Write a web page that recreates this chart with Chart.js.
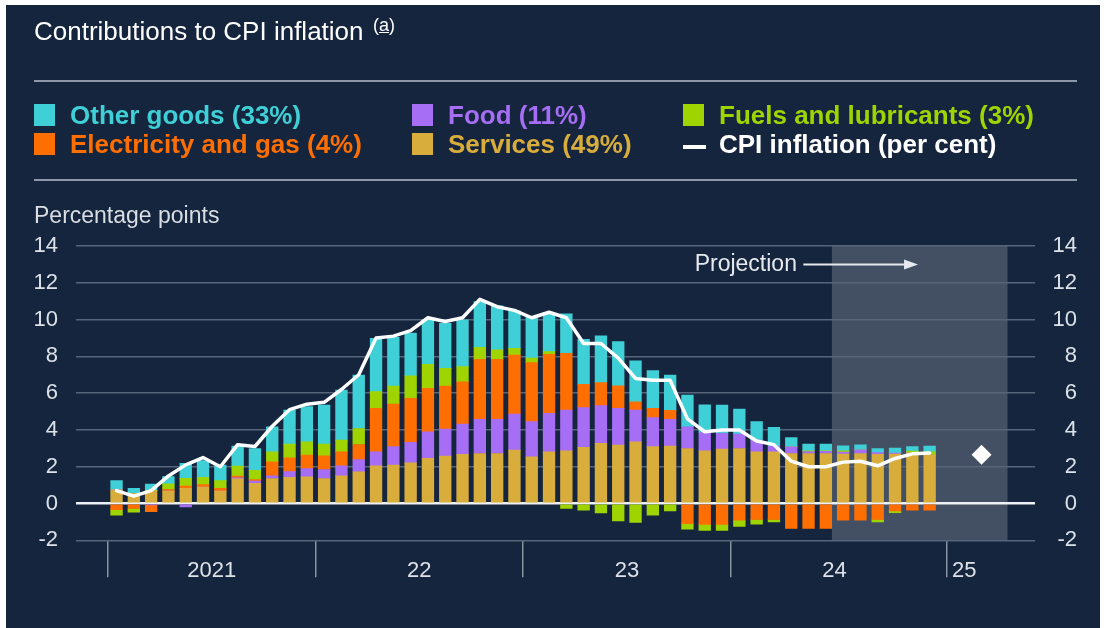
<!DOCTYPE html>
<html><head><meta charset="utf-8">
<script src="https://cdn.jsdelivr.net/npm/chart.js@4.4.1/dist/chart.umd.min.js"></script>
<style>
html,body{margin:0;padding:0;background:#ffffff;width:1110px;height:628px;overflow:hidden;font-family:"Liberation Sans",Arial,sans-serif}
#panel{position:absolute;left:6px;top:5px;width:1094px;height:623px;background:#15253d}
#c{position:absolute;left:0;top:0}
.t{position:absolute;white-space:nowrap;line-height:1}
.sep{position:absolute;left:34px;width:1043px;height:2px;background:#8d98a8}
.sw{position:absolute;width:21px;height:22px}
</style></head>
<body>
<div id="panel"></div>
<canvas id="c" width="1110" height="628"></canvas>
<div class="t" style="left:34px;top:18px;font-size:26px;color:#ffffff">Contributions to CPI inflation</div>
<div class="t" style="left:373px;top:16px;font-size:18px;color:#ffffff">(<u>a</u>)</div>
<div class="sep" style="top:80px"></div>
<div class="sep" style="top:179px"></div>
<div id="legend"></div>
<div class="t" style="left:34px;top:204px;font-size:23px;color:#d9dee5">Percentage points</div>
<script>
// ---- categories ----
const months = ['Jan 2021','Feb 2021','Mar 2021','Apr 2021','May 2021','Jun 2021','Jul 2021','Aug 2021','Sep 2021','Oct 2021','Nov 2021','Dec 2021',
  'Jan 2022','Feb 2022','Mar 2022','Apr 2022','May 2022','Jun 2022','Jul 2022','Aug 2022','Sep 2022','Oct 2022','Nov 2022','Dec 2022',
  'Jan 2023','Feb 2023','Mar 2023','Apr 2023','May 2023','Jun 2023','Jul 2023','Aug 2023','Sep 2023','Oct 2023','Nov 2023','Dec 2023',
  'Jan 2024','Feb 2024','Mar 2024','Apr 2024','May 2024','Jun 2024','Jul 2024','Aug 2024','Sep 2024','Oct 2024','Nov 2024','Dec 2024',
  'Jan 2025','Feb 2025','Mar 2025','Apr 2025','May 2025','Jun 2025'];

// ---- series (percentage points) ----
const services = [0.75,0.55,0.70,0.67,0.82,0.90,0.67,1.34,1.10,1.36,1.42,1.45,
  1.36,1.51,1.72,2.05,2.09,2.21,2.45,2.58,2.67,2.72,2.72,2.90,
  2.54,2.81,2.87,3.05,3.27,3.18,3.36,3.09,3.12,2.99,2.87,2.96,
  2.99,2.81,2.81,2.72,2.72,2.72,2.69,2.72,2.67,2.69,2.76,2.63];
const food = [0,0,-0.08,0,-0.18,0,0,0.05,0.12,0.15,0.31,0.45,
  0.49,0.54,0.67,0.76,1.00,1.11,1.45,1.47,1.65,1.85,1.85,1.96,
  1.91,2.09,2.21,2.16,2.05,2.00,1.72,1.58,1.46,1.18,0.98,0.85,
  0.78,0.64,0.31,0.36,0.10,0.12,0.10,0.20,0.10,0.05,0,0];
const electricity = [-0.33,-0.27,-0.37,0.09,0.13,0.13,0.15,0.10,0.08,0.76,0.76,0.73,
  0.74,0.76,0.82,2.36,2.32,2.40,2.36,2.34,2.30,3.27,3.27,3.21,
  3.21,3.21,3.09,1.27,1.25,1.22,0.45,0.51,0.48,-1.09,-1.13,-1.13,
  -0.91,-0.87,-0.87,-1.36,-1.36,-1.36,-0.91,-0.91,-0.87,-0.40,-0.36,-0.36];
const fuels = [-0.30,-0.20,0,0.31,0.42,0.40,0.42,0.54,0.51,0.54,0.74,0.73,
  0.64,0.64,0.87,0.91,0.98,1.22,1.31,0.96,0.82,0.65,0.51,0.36,
  0.24,0.15,-0.27,-0.36,-0.51,-0.94,-1.03,-0.64,-0.40,-0.31,-0.33,-0.33,
  -0.33,-0.25,-0.13,0,0.05,0.03,0.08,0,-0.13,-0.10,0.09,0.18];
const otherGoods = [0.50,0.27,0.35,0.40,0.82,0.90,0.85,1.09,1.18,1.36,1.85,1.91,
  2.12,2.72,2.90,2.90,2.65,2.32,2.41,2.45,2.54,2.49,2.40,2.05,
  2.23,2.05,2.14,2.45,2.54,2.41,2.23,2.05,1.92,1.72,1.51,1.54,
  1.36,1.00,1.02,0.51,0.36,0.36,0.27,0.27,0.22,0.27,0.24,0.31];
// CPI inflation, per cent
const cpi = [0.7,0.4,0.7,1.5,2.1,2.5,2.0,3.2,3.1,4.2,5.1,5.4,
  5.5,6.2,7.0,9.0,9.1,9.4,10.1,9.9,10.1,11.1,10.7,10.5,
  10.1,10.4,10.1,8.7,8.7,7.9,6.8,6.7,6.7,4.6,3.9,4.0,
  4.0,3.4,3.2,2.3,2.0,2.0,2.25,2.3,2.05,2.45,2.7,2.75];
const diamondMonths = ['Mar 2025'];
const diamondValues = [2.65];

// ---- labels ----
const seriesNames = ['Services (49%)','Food (11%)','Electricity and gas (4%)','Fuels and lubricants (3%)','Other goods (33%)'];
const lineName = 'CPI inflation (per cent)';
const yearLabels = ['2021','22','23','24','25'];
const yTickValues = [-2,0,2,4,6,8,10,12,14];
const projectionLabel = 'Projection';

// ---- styles / layout ----
const seriesColors = ['#d8ad3c','#a66df5','#ff6e00','#9fd400','#3fcfd6'];
const yearLabelPos = [5.5,17.5,29.5,41.5,49];
const yearTickPos = [-0.5,11.5,23.5,35.5,48];
const projStart = 41.35, projEnd = 51.5;
const gridColor = '#56657a';
const tickColor = '#dde2e8';
const FONT = '"Liberation Sans", Arial, sans-serif';

// legend (HTML), built from names & colors
const legendLayout = [ // [seriesIndex, col, row]
  [4,0,0],[1,1,0],[3,2,0],[2,0,1],[0,1,1],[-1,2,1]];
const colX = [34,412,683], rowTop = [104,133], textLeftOff = 36;
const lg = document.getElementById('legend');
legendLayout.forEach(([si,c,r])=>{
  const col = si>=0 ? seriesColors[si] : '#ffffff';
  const name = si>=0 ? seriesNames[si] : lineName;
  const sw = document.createElement('div');
  if (si>=0){ sw.className='sw'; sw.style.left=colX[c]+'px'; sw.style.top=rowTop[r]+'px'; sw.style.background=col; }
  else { sw.style.cssText='position:absolute;left:'+colX[c]+'px;top:'+(rowTop[r]+12)+'px;width:23px;height:4px;background:#fff'; }
  lg.appendChild(sw);
  const tx = document.createElement('div');
  tx.className='t';
  tx.style.cssText += 'left:'+(colX[c]+textLeftOff)+'px;top:'+(rowTop[r]-2)+'px;font-size:26px;font-weight:bold;color:'+col;
  tx.textContent = name;
  lg.appendChild(tx);
});

Chart.defaults.font.family = FONT;
const idx = months.slice(0, cpi.length).map((m,i)=>i);
const seriesData = [services, food, electricity, fuels, otherGoods];
const datasets = seriesData.map((arr,k)=>({
  type:'bar', label:seriesNames[k], stack:'bars',
  data: arr.map((v,i)=>({x:idx[i], y:v})),
  backgroundColor: seriesColors[k], borderWidth:0, barThickness:11.7
}));
datasets.push({type:'line', label:lineName, stack:'cpi', order:-1,
  data: cpi.map((v,i)=>({x:idx[i], y:v})),
  borderColor:'#ffffff', borderWidth:3.5, pointRadius:0, fill:false, tension:0,
  borderJoinStyle:'round', borderCapStyle:'round'});
datasets.push({type:'line', label:'diamond', stack:'diamond', order:-2, showLine:false,
  data: diamondValues.map((v,i)=>({x:months.indexOf(diamondMonths[i]), y:v})),
  pointStyle:'rectRot', pointRadius:10, backgroundColor:'#ffffff', borderColor:'#ffffff', borderWidth:0});

const xTickSet = yearTickPos.concat(yearLabelPos).sort((a,b)=>a-b);
const labelMap = new Map(yearLabelPos.map((p,i)=>[p, yearLabels[i]]));

const projPlugin = {
  id:'proj',
  beforeDraw(chart){
    const {ctx, scales:{x,y}} = chart;
    ctx.save();
    ctx.fillStyle='rgba(255,255,255,0.2)';
    const x0=x.getPixelForValue(projStart), x1=x.getPixelForValue(projEnd);
    const y0=y.getPixelForValue(14), y1=y.getPixelForValue(-2);
    ctx.fillRect(x0,y0,x1-x0,y1-y0);
    ctx.restore();
  },
  afterDatasetsDraw(chart){
    const {ctx, scales:{x,y}} = chart;
    ctx.save();
    const yy = y.getPixelForValue(13);
    ctx.font = '23px '+FONT;
    ctx.fillStyle = '#e6e9ee';
    ctx.textAlign='right'; ctx.textBaseline='middle';
    ctx.fillText(projectionLabel, x.getPixelForValue(39.33), yy);
    const ax0 = x.getPixelForValue(39.7), ax1 = x.getPixelForValue(46.33);
    ctx.strokeStyle='#e6e9ee'; ctx.lineWidth=2;
    ctx.beginPath(); ctx.moveTo(ax0,yy); ctx.lineTo(ax1-10,yy); ctx.stroke();
    ctx.fillStyle='#e6e9ee';
    ctx.beginPath(); ctx.moveTo(ax1,yy); ctx.lineTo(ax1-14,yy-5); ctx.lineTo(ax1-14,yy+5); ctx.closePath(); ctx.fill();
    ctx.restore();
  }
};

new Chart(document.getElementById('c'), {
  type:'bar',
  data:{datasets},
  plugins:[projPlugin],
  options:{
    responsive:false, animation:false, devicePixelRatio:1, events:[],
    layout:{padding:{top:246,left:0,right:33,bottom:0}},
    plugins:{legend:{display:false}, tooltip:{enabled:false}},
    scales:{
      x:{type:'linear', min:-2.343, max:53.09, stacked:true, offset:false,
        afterBuildTicks:(s)=>{ s.ticks = xTickSet.map(v=>({value:v})); },
        afterFit:(s)=>{ s.height = 87.7; },
        ticks:{autoSkip:false, maxRotation:0, minRotation:0, padding:-20, color:tickColor,
          font:{size:22}, callback:(v)=> labelMap.has(v) ? labelMap.get(v) : ''},
        grid:{offset:false, drawOnChartArea:false, drawTicks:true, tickLength:37, lineWidth:1.5,
          color:(c)=> (c.tick && yearTickPos.includes(c.tick.value)) ? '#8994a3' : 'rgba(0,0,0,0)'},
        border:{display:false}
      },
      y:{position:'left', min:-2, max:14, stacked:true,
        afterBuildTicks:(s)=>{ s.ticks = yTickValues.map(v=>({value:v})); },
        afterFit:(s)=>{ s.width = 76; },
        ticks:{padding:18, color:tickColor, font:{size:22}},
        grid:{drawTicks:false, color:(c)=> c.tick && c.tick.value===0 ? '#eef2f6' : gridColor,
          lineWidth:(c)=> c.tick && c.tick.value===0 ? 2.5 : 1.5},
        border:{display:false}
      },
      y2:{position:'right', min:-2, max:14,
        afterBuildTicks:(s)=>{ s.ticks = yTickValues.map(v=>({value:v})); },
        afterFit:(s)=>{ s.width = 42; },
        ticks:{crossAlign:'far', color:tickColor, font:{size:22}},
        grid:{display:false, drawOnChartArea:false},
        border:{display:false}
      }
    }
  }
});
</script>
</body></html>
